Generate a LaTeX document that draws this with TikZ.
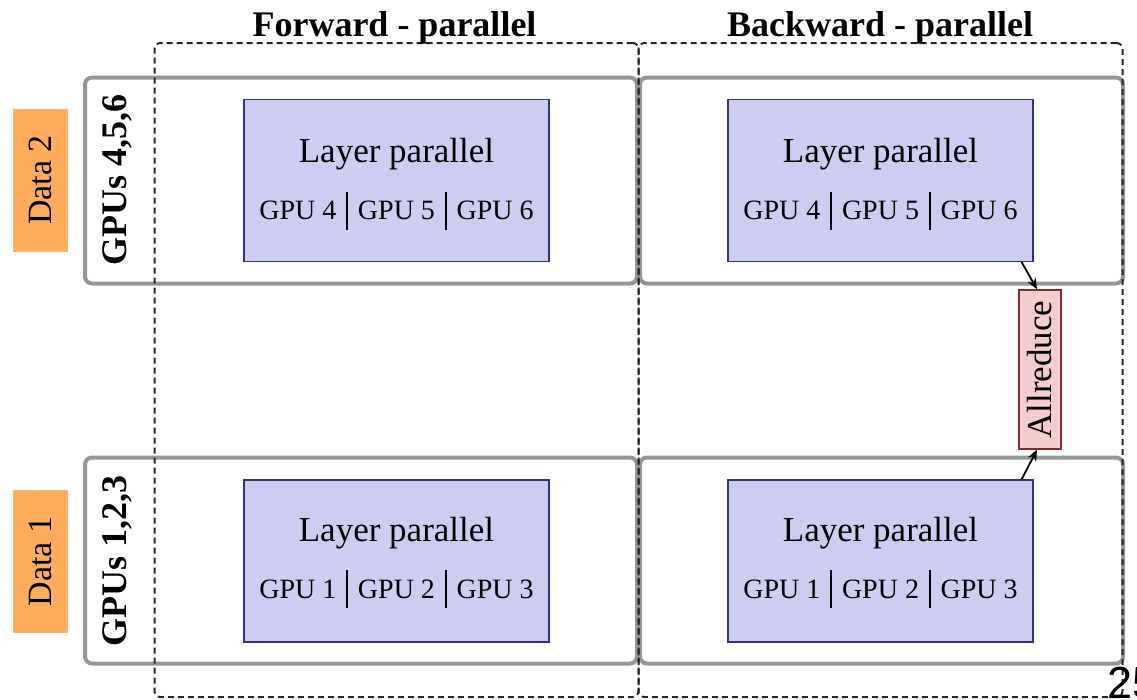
\documentclass[tikz,border=0pt]{standalone}
\usepackage{fontspec}
\setmainfont{Liberation Serif}
\newfontfamily\slidefont{Liberation Sans}
\usetikzlibrary{arrows.meta}

\definecolor{layerfill}{RGB}{205,205,242}
\definecolor{layerdraw}{RGB}{50,50,125}
\definecolor{datafill}{RGB}{255,172,92}
\definecolor{redfill}{RGB}{244,204,204}
\definecolor{reddraw}{RGB}{125,45,45}
\definecolor{rowgray}{RGB}{150,150,150}

\newcommand{\gpusep}{\hspace{10pt}\rule[-10pt]{1.6pt}{38pt}\hspace{10pt}}

\tikzset{
  rowbox/.style={draw=rowgray, line width=4pt, rounded corners=7pt,
    minimum height=206pt, inner sep=0pt},
  phasebox/.style={draw=black!85, line width=2pt, dash pattern=on 6pt off 4pt,
    rounded corners=6pt, minimum width=484pt, minimum height=654pt, inner sep=0pt},
  layerbox/.style={draw=layerdraw, line width=1.3pt, fill=layerfill,
    minimum width=305pt, minimum height=162pt, inner sep=0pt},
  databox/.style={fill=datafill, draw=datafill!90!white, minimum width=142pt,
    minimum height=54pt, rotate=90, inner sep=0pt,
    font=\fontsize{34}{40}\selectfont},
  gpulabel/.style={rotate=90, font=\fontsize{36}{40}\selectfont\bfseries},
  title/.style={anchor=base, font=\fontsize{36}{40}\selectfont\bfseries},
  bigtext/.style={anchor=base, font=\fontsize{35}{40}\selectfont},
  gputext/.style={anchor=base, font=\fontsize{28}{32}\selectfont},
  reducebox/.style={draw=reddraw, line width=1.3pt, fill=redfill, rotate=90,
    minimum width=159pt, minimum height=42pt, inner sep=0pt,
    font=\fontsize{35}{40}\selectfont},
  flow/.style={line width=1.8pt, -{Stealth[length=11pt,width=9pt]}}
}

\begin{document}
\begin{tikzpicture}[x=1pt, y=-1pt]
  \useasboundingbox (0,0) rectangle (1137,699);

  % rows of GPUs
  \node[rowbox, minimum width=552pt] (rowtl) at (361,180.5) {};
  \node[rowbox, minimum width=483pt] (rowtr) at (881.5,180.5) {};
  \node[rowbox, minimum width=552pt] (rowbl) at (361,560.5) {};
  \node[rowbox, minimum width=483pt] (rowbr) at (881.5,560.5) {};

  % forward and backward phases
  \node[phasebox] (fwd) at (396.5,370) {};
  \node[phasebox] (bwd) at (880.5,370) {};
  \node[title] (fwdtitle) at (394.5,36) {Forward - parallel};
  \node[title] (bwdtitle) at (880,36) {Backward - parallel};

  % data shards and GPU groups
  \node[databox] (data2) at (40,180) {Data 2};
  \node[databox] (data1) at (40,561.5) {Data 1};
  \node[gpulabel] (grp2) at (117,180) {GPUs 4,5,6};
  \node[gpulabel] (grp1) at (117,561) {GPUs 1,2,3};

  % layer-parallel blocks
  \node[layerbox] (ft) at (396.5,180.5) {};
  \node[layerbox] (bt) at (880.5,180.5) {};
  \node[layerbox] (fb) at (396.5,561) {};
  \node[layerbox] (bb) at (880.5,561) {};

  \foreach \b in {ft, bt} {
    \node[bigtext] (\b-t) at ([yshift=-64pt]\b.north) {Layer parallel};
    \node[gputext] (\b-g) at ([yshift=-121pt]\b.north) {GPU 4\gpusep GPU 5\gpusep GPU 6};
  }
  \foreach \b in {fb, bb} {
    \node[bigtext] (\b-t) at ([yshift=-62pt]\b.north) {Layer parallel};
    \node[gputext] (\b-g) at ([yshift=-119pt]\b.north) {GPU 1\gpusep GPU 2\gpusep GPU 3};
  }

  % gradient allreduce between the two backward passes
  \node[reducebox] (ar) at (1040,369.5) {Allreduce};
  \draw[flow] ([xshift=-12pt]bt.south east) -- ([xshift=-3pt]ar.east);
  \draw[flow] ([xshift=-12pt]bb.north east) -- ([xshift=-3pt]ar.west);

  % page number
  \node[anchor=base west, inner sep=0pt, font=\fontsize{45}{50}\slidefont] (pagenum) at (1107,698) {25};
\end{tikzpicture}
\end{document}
